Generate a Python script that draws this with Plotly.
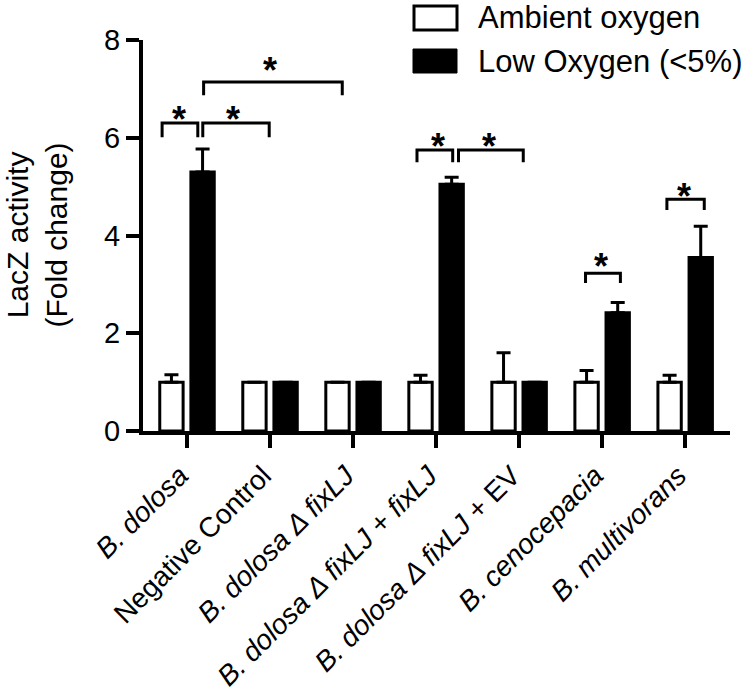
import plotly.graph_objects as go

# ---------------- data ----------------
categories = [
    "<i>B. dolosa</i>",
    "Negative Control",
    "<i>B. dolosa Δ fixLJ</i>",
    "<i>B. dolosa Δ fixLJ</i> + <i>fixLJ</i>",
    "<i>B. dolosa Δ fixLJ</i> + EV",
    "<i>B. cenocepacia</i>",
    "<i>B. multivorans</i>",
]
ambient = [1.0, 1.0, 1.0, 1.0, 1.0, 1.0, 1.0]
ambient_err = [0.15, 0.0, 0.0, 0.14, 0.60, 0.24, 0.14]
low_o2 = [5.30, 1.0, 1.0, 5.05, 1.0, 2.42, 3.55]
low_o2_err = [0.47, 0.0, 0.0, 0.14, 0.0, 0.21, 0.64]

# significance brackets (category-index units / y units)
bracket_x0 = [-0.30, 0.19, 0.20, 2.77, 3.27, 4.80, 5.78]
bracket_x1 = [0.13, 0.99, 1.87, 3.20, 4.05, 5.22, 6.23]
bracket_top = [6.30, 6.30, 7.14, 5.75, 5.75, 3.23, 4.74]
bracket_bottom = [6.01, 6.01, 6.87, 5.50, 5.50, 3.03, 4.52]
star_x = [-0.10, 0.55, 1.0, 3.02, 3.64, 4.99, 5.98]
star_y = [6.56, 6.56, 7.55, 6.01, 6.01, 3.56, 4.99]

y_ticks = [0, 2, 4, 6, 8]
legend_names = ["Ambient oxygen", "Low Oxygen (<5%)"]

FONT = "Liberation Sans, Arial, Helvetica, sans-serif"
xpos = list(range(len(categories)))

fig = go.Figure()
fig.add_trace(go.Bar(
    x=xpos, y=ambient, name=legend_names[0],
    marker=dict(color="white", line=dict(color="black", width=3)),
    error_y=dict(type="data", symmetric=False, array=ambient_err,
                 arrayminus=[0] * len(ambient), color="black",
                 thickness=3, width=7),
))
fig.add_trace(go.Bar(
    x=xpos, y=low_o2, name=legend_names[1],
    marker=dict(color="black", line=dict(color="black", width=3)),
    error_y=dict(type="data", symmetric=False, array=low_o2_err,
                 arrayminus=[0] * len(low_o2), color="black",
                 thickness=3, width=7),
))

shapes = []
for x0, x1, yt, yb in zip(bracket_x0, bracket_x1, bracket_top, bracket_bottom):
    shapes.append(dict(
        type="path", xref="x", yref="y",
        path=f"M {x0},{yb} L {x0},{yt} L {x1},{yt} L {x1},{yb}",
        line=dict(color="black", width=3),
    ))

annotations = []
for sx, sy in zip(star_x, star_y):
    annotations.append(dict(
        x=sx, y=sy, xref="x", yref="y", text="<b>*</b>", showarrow=False,
        xanchor="center", yanchor="middle", yshift=-9,
        font=dict(family=FONT, size=36, color="black"),
    ))

# manual legend (large keys as in the reference)
W, H = 587.0, 391.0
L0, T0 = 143.0, 40.0


def px(x):
    return (x - L0) / W


def py(y):
    return (T0 + H - y) / H


shapes.append(dict(type="rect", xref="paper", yref="paper",
                   x0=px(414), x1=px(457), y0=py(30), y1=py(6),
                   fillcolor="white", line=dict(color="black", width=3)))
shapes.append(dict(type="rect", xref="paper", yref="paper",
                   x0=px(413), x1=px(457), y0=py(73), y1=py(49),
                   fillcolor="black", line=dict(color="black", width=1)))
annotations.append(dict(x=px(476), y=py(18), xref="paper", yref="paper",
                        text=legend_names[0], showarrow=False,
                        xanchor="left", yanchor="middle",
                        font=dict(family=FONT, size=31, color="black")))
annotations.append(dict(x=px(476), y=py(61), xref="paper", yref="paper",
                        text=legend_names[1], showarrow=False,
                        xanchor="left", yanchor="middle",
                        font=dict(family=FONT, size=31, color="black")))

# y-axis title
annotations.append(dict(x=px(36), y=0.5, xref="paper", yref="paper",
                        text="LacZ activity<br>(Fold change)", showarrow=False,
                        textangle=-90, xanchor="center", yanchor="middle",
                        font=dict(family=FONT, size=30, color="black")))

fig.update_layout(
    width=750, height=692,
    margin=dict(l=143, r=20, t=40, b=261, autoexpand=False),
    paper_bgcolor="white", plot_bgcolor="white",
    barmode="group", bargap=0.25, bargroupgap=0.25,
    showlegend=False,
    font=dict(family=FONT, color="black"),
    shapes=shapes, annotations=annotations,
)
fig.update_xaxes(
    range=[-0.53, 6.54], tickmode="array", tickvals=xpos, ticktext=categories,
    tickangle=-45, ticks="outside", ticklen=13, tickwidth=4, tickcolor="black",
    showline=True, linewidth=4, linecolor="black", showgrid=False,
    zeroline=False, automargin=False, ticklabelshift=-7,
    tickfont=dict(family=FONT, size=28, color="black"),
)
fig.update_yaxes(
    range=[0, 8], tickmode="array", tickvals=y_ticks,
    ticktext=[str(v) for v in y_ticks],
    ticks="outside", ticklen=13, tickwidth=4, tickcolor="black",
    showline=True, linewidth=4, linecolor="black", showgrid=False,
    zeroline=False, automargin=False,
    tickfont=dict(family=FONT, size=29, color="black"),
)

fig.write_html("out.html", config={"displayModeBar": False},
               post_script="document.body.style.margin='0';")
